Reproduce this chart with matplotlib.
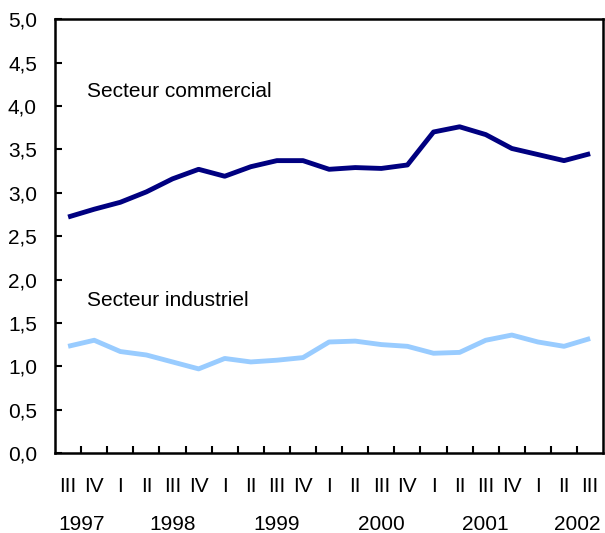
import matplotlib.pyplot as plt
import numpy as np

plt.rcParams['font.family'] = ['Liberation Sans', 'DejaVu Sans']

quarters = ['III', 'IV', 'I', 'II', 'III', 'IV', 'I', 'II', 'III', 'IV', 'I',
            'II', 'III', 'IV', 'I', 'II', 'III', 'IV', 'I', 'II', 'III']
years = ['1997', '1998', '1999', '2000', '2001', '2002']
year_pos = [0.5, 4, 8, 12, 16, 19.5]

commercial = [2.72, 2.81, 2.89, 3.01, 3.16, 3.27, 3.19, 3.30, 3.37, 3.37, 3.27,
              3.29, 3.28, 3.32, 3.70, 3.76, 3.67, 3.51, 3.44, 3.37, 3.45]
industriel = [1.23, 1.30, 1.17, 1.13, 1.05, 0.97, 1.09, 1.05, 1.07, 1.10, 1.28,
              1.29, 1.25, 1.23, 1.15, 1.16, 1.30, 1.36, 1.28, 1.23, 1.32]

x = np.arange(len(quarters))

fig = plt.figure(figsize=(6.05, 5.33), dpi=100)
ax = fig.add_axes([0.091, 0.150, 0.906, 0.814])

ax.plot(x, commercial, color='#000080', lw=3.5, solid_capstyle='butt')
ax.plot(x, industriel, color='#99ccff', lw=3.5, solid_capstyle='butt')

ax.text(0.73, 4.17, 'Secteur commercial', fontsize=15, ha='left', va='center')
ax.text(0.73, 1.76, 'Secteur industriel', fontsize=15, ha='left', va='center')

ax.set_xlim(-0.5, len(quarters) - 0.5)
ax.set_ylim(0, 5)
yt = np.arange(0, 5.01, 0.5)
ax.set_yticks(yt)
ax.set_yticklabels([f'{v:.1f}'.replace('.', ',') for v in yt], fontsize=15)
ax.tick_params(axis='y', direction='in', length=5, width=1.5, pad=13)

ax.set_xticks(x)
ax.set_xticklabels(quarters, fontsize=15)
ax.tick_params(axis='x', which='major', length=0, pad=17)
ax.set_xticks(np.arange(0.5, len(quarters) - 1, 1), minor=True)
ax.tick_params(axis='x', which='minor', direction='in', length=5, width=1.5)

for yr, p in zip(years, year_pos):
    ax.text(p, -0.165, yr, transform=ax.get_xaxis_transform(), fontsize=15,
            ha='center', va='center')

for s in ax.spines.values():
    s.set_linewidth(1.8)

fig.savefig('out.png', dpi=100)
